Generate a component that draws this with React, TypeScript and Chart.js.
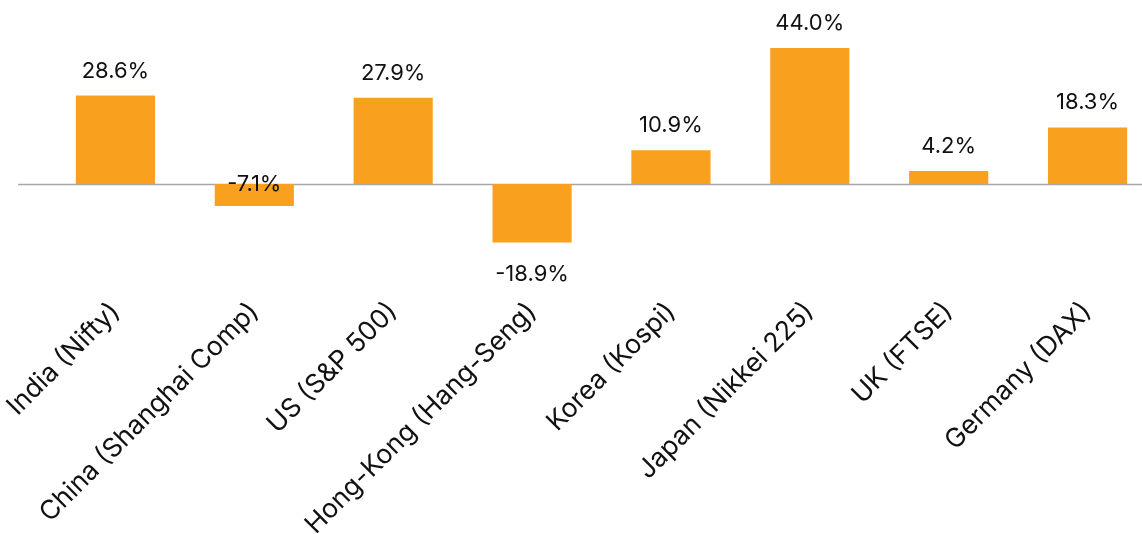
import React, { useEffect, useRef } from "react";
import { Chart, registerables } from "chart.js";

Chart.register(...registerables);

const categories: string[] = [
  "India (Nifty)",
  "China (Shanghai Comp)",
  "US (S&P 500)",
  "Hong-Kong (Hang-Seng)",
  "Korea (Kospi)",
  "Japan (Nikkei 225)",
  "UK (FTSE)",
  "Germany (DAX)",
];

const returns: number[] = [28.6, -7.1, 27.9, -18.9, 10.9, 44.0, 4.2, 18.3];

const FONT = "Inter, 'DejaVu Sans', sans-serif";
const BAR_COLOR = "#F9A11E";

const zeroLinePlugin = {
  id: "zeroLine",
  beforeDatasetsDraw(chart: any) {
    const { ctx, scales, width } = chart;
    const y = Math.round(scales.y.getPixelForValue(0)) + 0.5;
    ctx.save();
    ctx.strokeStyle = "#A6A6A6";
    ctx.lineWidth = 1.5;
    ctx.beginPath();
    ctx.moveTo(18, y);
    ctx.lineTo(width, y);
    ctx.stroke();
    ctx.restore();
  },
};

const valueLabelPlugin = {
  id: "valueLabels",
  afterDatasetsDraw(chart: any) {
    const { ctx } = chart;
    const meta = chart.getDatasetMeta(0);
    const data = chart.data.datasets[0].data as number[];
    ctx.save();
    ctx.fillStyle = "#111111";
    ctx.font = `22px ${FONT}`;
    ctx.textAlign = "center";
    meta.data.forEach((el: any, i: number) => {
      const v = data[i];
      const txt = v.toFixed(1) + "%";
      if (v >= 0) {
        ctx.textBaseline = "alphabetic";
        ctx.fillText(txt, el.x, el.y - 18);
      } else if (Math.abs(v) < 10) {
        ctx.textBaseline = "middle";
        ctx.fillText(txt, el.x, el.base);
      } else {
        ctx.textBaseline = "alphabetic";
        ctx.fillText(txt, el.x, el.y + 39);
      }
    });
    ctx.restore();
  },
};

export default function App() {
  const ref = useRef<HTMLCanvasElement | null>(null);

  useEffect(() => {
    if (!ref.current) return;
    const chart = new Chart(ref.current, {
      type: "bar",
      data: {
        labels: categories,
        datasets: [
          {
            data: returns,
            backgroundColor: BAR_COLOR,
            borderWidth: 0,
            barPercentage: 0.57,
            categoryPercentage: 1,
          },
        ],
      },
      options: {
        animation: false,
        responsive: true,
        maintainAspectRatio: false,
        layout: { padding: { left: 46, right: 3, top: 0, bottom: 0 } },
        plugins: {
          legend: { display: false },
          tooltip: { enabled: false },
        },
        scales: {
          x: {
            offset: true,
            grid: { display: false, drawTicks: false },
            border: { display: false },
            ticks: {
              autoSkip: false,
              maxRotation: 45,
              minRotation: 45,
              padding: 6,
              color: "#111111",
              font: { family: FONT, size: 26.5 },
            },
            afterFit(scale: any) {
              scale.height = 244;
            },
          },
          y: {
            display: false,
            min: -34.3,
            max: 59.5,
          },
        },
      },
      plugins: [zeroLinePlugin, valueLabelPlugin],
    });
    return () => chart.destroy();
  }, []);

  return (
    <div
      style={{
        position: "fixed",
        left: 0,
        top: 0,
        width: 1160,
        height: 534,
        background: "#ffffff",
      }}
    >
      <canvas ref={ref} />
    </div>
  );
}
